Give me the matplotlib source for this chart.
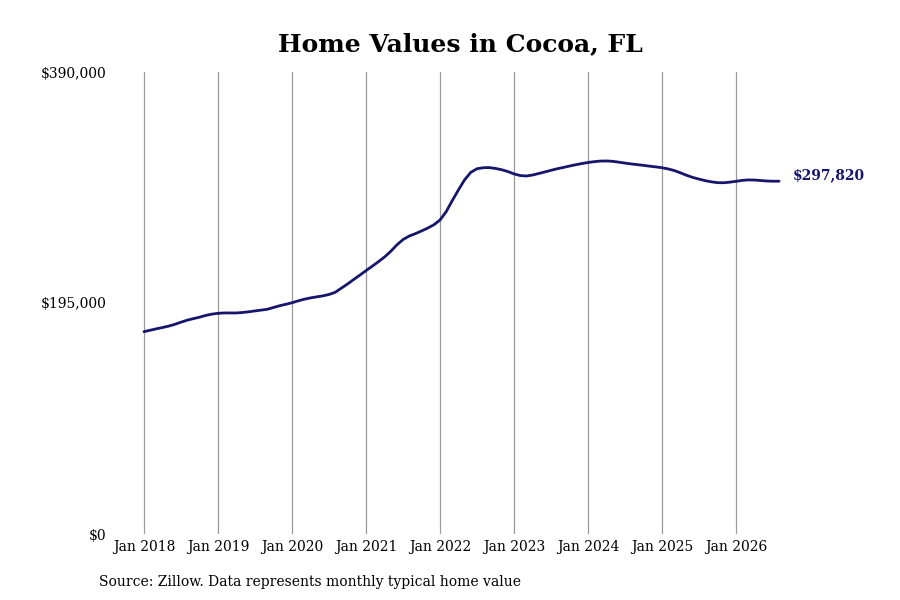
import numpy as np
import matplotlib.pyplot as plt

# monthly typical home value, Jan 2018 .. Aug 2026 (thousands of $)
v2018 = [170.8, 172.0, 173.2, 174.3, 175.5, 177.0, 178.8, 180.5, 181.8, 183.0, 184.5, 185.6]
v2019 = [186.3, 186.6, 186.6, 186.6, 187.0, 187.6, 188.3, 189.0, 189.7, 191.2, 192.7, 193.9]
v2020 = [195.2, 196.8, 198.2, 199.3, 200.2, 201.0, 202.2, 204.0, 207.5, 211.0, 214.8, 218.5]
v2021 = [222.3, 226.0, 229.8, 233.8, 238.5, 244.0, 248.5, 251.5, 253.5, 255.8, 258.2, 261.0]
v2022 = [265.0, 272.0, 281.5, 290.5, 299.0, 305.3, 308.3, 309.2, 309.3, 308.6, 307.5, 306.0]
v2023 = [304.0, 302.6, 302.2, 303.0, 304.3, 305.6, 307.0, 308.3, 309.4, 310.6, 311.7, 312.7]
v2024 = [313.6, 314.3, 314.8, 314.9, 314.6, 313.9, 313.1, 312.4, 311.8, 311.2, 310.5, 309.9]
v2025 = [309.2, 308.2, 306.8, 304.9, 302.8, 301.0, 299.6, 298.3, 297.3, 296.6, 296.5, 297.0]
v2026 = [297.7, 298.5, 298.9, 298.8, 298.4, 298.0, 297.8, 297.82]

values = np.array(v2018 + v2019 + v2020 + v2021 + v2022 + v2023 + v2024 + v2025 + v2026) * 1000
months = np.arange(len(values))

tick_pos = np.arange(0, 97, 12)
tick_labels = ["Jan %d" % y for y in range(2018, 2027)]
y_ticks = [0, 195000, 390000]
y_labels = ["$0", "$195,000", "$390,000"]

plt.rcParams['font.family'] = ['DejaVu Serif']

fig = plt.figure(figsize=(9, 6), dpi=100)
ax = fig.add_axes([0.1278, 0.11, 0.7447, 0.77])

ax.plot(months, values, color='#15156b', lw=2.0, solid_capstyle='round')
ax.set_xlim(-4.7, 104)
ax.set_ylim(0, 390000)

ax.set_xticks(tick_pos)
ax.set_xticklabels(tick_labels, fontsize=10)
ax.set_yticks(y_ticks)
ax.set_yticklabels(y_labels, fontsize=10)
ax.tick_params(axis='y', length=0, pad=6)
ax.tick_params(axis='x', length=0, pad=4)
ax.grid(axis='x', color='#999999', lw=0.9)
ax.grid(axis='y', visible=False)
for s in ax.spines.values():
    s.set_visible(False)

ax.annotate("$%s" % format(int(round(values[-1])), ","), xy=(months[-1], values[-1]),
            xytext=(10, 4), textcoords='offset points', va='center', ha='left',
            fontsize=10, fontweight='bold', color='#15156b', annotation_clip=False)

fig.text(0.512, 0.927, "Home Values in Cocoa, FL", ha='center', va='center',
         fontsize=18, fontweight='bold')
fig.text(0.11, 0.03, "Source: Zillow. Data represents monthly typical home value",
         ha='left', va='center', fontsize=10)

fig.savefig("out.png", dpi=100)
